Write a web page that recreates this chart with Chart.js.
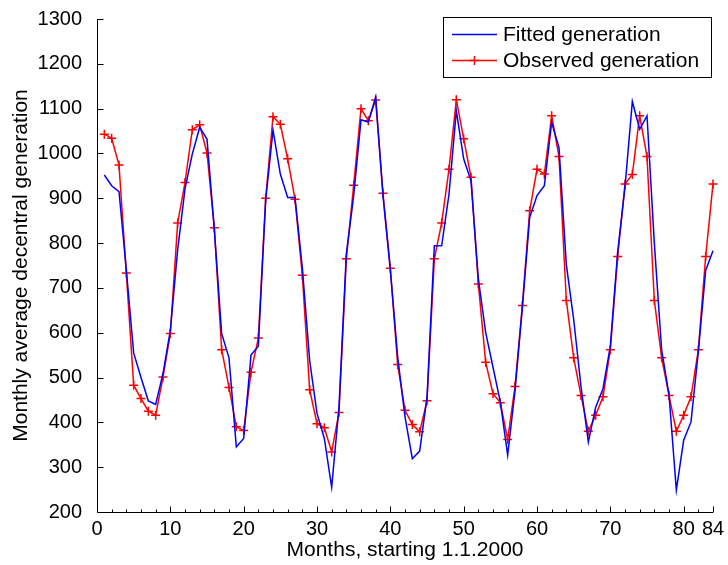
<!DOCTYPE html>
<html>
<head>
<meta charset="utf-8">
<script src="https://cdn.jsdelivr.net/npm/chart.js@4.4.1/dist/chart.umd.min.js"></script>
<style>html,body{margin:0;padding:0;background:#fff;overflow:hidden}</style>
</head>
<body>
<canvas id="c" width="728" height="565"></canvas>
<script>
const months = [1,2,3,4,5,6,7,8,9,10,11,12,13,14,15,16,17,18,19,20,21,22,23,24,25,26,27,28,29,30,
  31,32,33,34,35,36,37,38,39,40,41,42,43,44,45,46,47,48,49,50,51,52,53,54,55,56,57,58,59,60,
  61,62,63,64,65,66,67,68,69,70,71,72,73,74,75,76,77,78,79,80,81,82,83,84];

const fitted = [952,928,915,740,555,500,448,440,509,605,785,921,999,1058,1032,830,598,544,345,364,
  550,570,895,1052,954,902,902,745,538,420,364,255,434,776,905,1075,1070,1126,905,740,
  546,412,319,336,455,794,794,909,1095,988,939,720,601,523,445,327,470,655,857,906,
  928,1069,1013,752,630,480,356,434,475,570,780,925,1116,1054,1084,800,561,462,249,360,
  401,558,739,783];

const observed = [1043,1034,974,733,483,453,425,416,501,598,845,935,1053,1064,1001,834,562,478,390,382,
  512,588,900,1082,1065,988,898,728,473,397,388,334,422,765,929,1100,1073,1119,911,744,
  529,427,395,379,448,765,845,965,1120,1033,947,709,534,464,444,362,480,661,872,965,
  954,1084,993,672,544,460,380,416,457,562,770,932,953,1084,993,672,544,460,380,416,
  457,562,770,932];

const xTickValues = [0,10,20,30,40,50,60,70,80,84];
const xMinorTickValues = [2,4,6,8,12,14,16,18,22,24,26,28,32,34,36,38,42,44,46,48,52,54,56,58,62,64,66,68,72,74,76,78,82];
const yTickValues = [200,300,400,500,600,700,800,900,1000,1100,1200,1300];
const seriesLabels = ['Fitted generation','Observed generation'];

const FONT = "'Liberation Sans', Arial, Helvetica, sans-serif";

const axesPlugin = {
  id: 'matlabAxes',
  afterDatasetsDraw(chart) {
    const {ctx, chartArea, scales} = chart;
    const {left, right, top, bottom} = chartArea;
    const x = scales.x, y = scales.y;
    ctx.save();
    ctx.strokeStyle = '#000';
    ctx.lineWidth = 1;
    ctx.beginPath();
    const lx = Math.round(left) + 0.5, by = Math.round(bottom) + 0.5;
    ctx.moveTo(lx, top);
    ctx.lineTo(lx, by);
    ctx.lineTo(right, by);
    yTickValues.forEach(v => {
      const py = Math.round(y.getPixelForValue(v)) + 0.5;
      ctx.moveTo(lx, py); ctx.lineTo(lx + 6, py);
    });
    xTickValues.forEach(v => {
      const px = Math.round(x.getPixelForValue(v)) + 0.5;
      ctx.moveTo(px, by); ctx.lineTo(px, by - 6);
    });
    xMinorTickValues.forEach(v => {
      const px = Math.round(x.getPixelForValue(v)) + 0.5;
      ctx.moveTo(px, by); ctx.lineTo(px, by - 3);
    });
    ctx.stroke();
    ctx.restore();
  },
  afterDraw(chart) {
    const ctx = chart.ctx;
    const ds = chart.data.datasets;
    ctx.save();
    ctx.fillStyle = '#fff';
    ctx.fillRect(443, 17, 269, 61);
    ctx.strokeStyle = '#000';
    ctx.lineWidth = 1;
    ctx.strokeRect(443.5, 17.5, 268, 60);
    const rows = [34, 60];
    ds.forEach((d, i) => {
      const yy = rows[i] + 0.5;
      ctx.strokeStyle = d.borderColor;
      ctx.lineWidth = 1.5;
      ctx.beginPath();
      ctx.moveTo(452, yy); ctx.lineTo(497, yy);
      ctx.stroke();
      if (d.pointStyle === 'cross') {
        ctx.beginPath();
        ctx.moveTo(474.5, yy - 4.5); ctx.lineTo(474.5, yy + 4.5);
        ctx.moveTo(470, yy); ctx.lineTo(479, yy);
        ctx.stroke();
      }
      ctx.fillStyle = '#000';
      ctx.font = "21px " + FONT;
      ctx.textBaseline = 'middle';
      ctx.textAlign = 'left';
      ctx.fillText(d.label, 503, rows[i] + 1);
    });
    ctx.restore();
  }
};

const tickFont = {family: FONT, size: 20};

new Chart(document.getElementById('c'), {
  type: 'line',
  data: {
    datasets: [
      {
        label: seriesLabels[0],
        data: months.map((m, i) => ({x: m, y: fitted[i]})),
        borderColor: '#0000ff',
        backgroundColor: '#0000ff',
        borderWidth: 1.5,
        pointRadius: 0,
        pointHoverRadius: 0,
        tension: 0,
        fill: false,
        clip: false
      },
      {
        label: seriesLabels[1],
        data: months.map((m, i) => ({x: m, y: observed[i]})),
        borderColor: '#ff0000',
        backgroundColor: '#ff0000',
        borderWidth: 1.5,
        pointStyle: 'cross',
        pointRadius: 4.5,
        pointBorderWidth: 1.5,
        pointBorderColor: '#ff0000',
        tension: 0,
        fill: false,
        clip: false
      }
    ]
  },
  options: {
    responsive: false,
    animation: false,
    devicePixelRatio: 1,
    layout: {padding: {top: 18, right: 15, left: 0, bottom: 0}},
    plugins: {legend: {display: false}, tooltip: {enabled: false}},
    events: [],
    scales: {
      x: {
        type: 'linear',
        min: 0, max: 84,
        afterBuildTicks: s => { s.ticks = xTickValues.map(v => ({value: v})); },
        afterFit: s => { s.height = 53; },
        grid: {display: false},
        border: {display: false},
        ticks: {autoSkip: false, maxRotation: 0, color: '#000', font: tickFont, padding: -3,
                callback: v => String(v)},
        title: {display: true, text: 'Months, starting 1.1.2000', color: '#000',
                font: {family: FONT, size: 21}, padding: {top: 0, bottom: 2}}
      },
      y: {
        type: 'linear',
        min: 200, max: 1300,
        afterBuildTicks: s => { s.ticks = yTickValues.map(v => ({value: v})); },
        afterFit: s => { s.width = 97; },
        grid: {display: false},
        border: {display: false},
        ticks: {autoSkip: false, color: '#000', font: tickFont, padding: 7,
                callback: v => String(v)},
        title: {display: true, text: 'Monthly average decentral generation', color: '#000',
                font: {family: FONT, size: 21}, padding: {top: 9, bottom: 0}}
      }
    }
  },
  plugins: [axesPlugin]
});
</script>
</body>
</html>
